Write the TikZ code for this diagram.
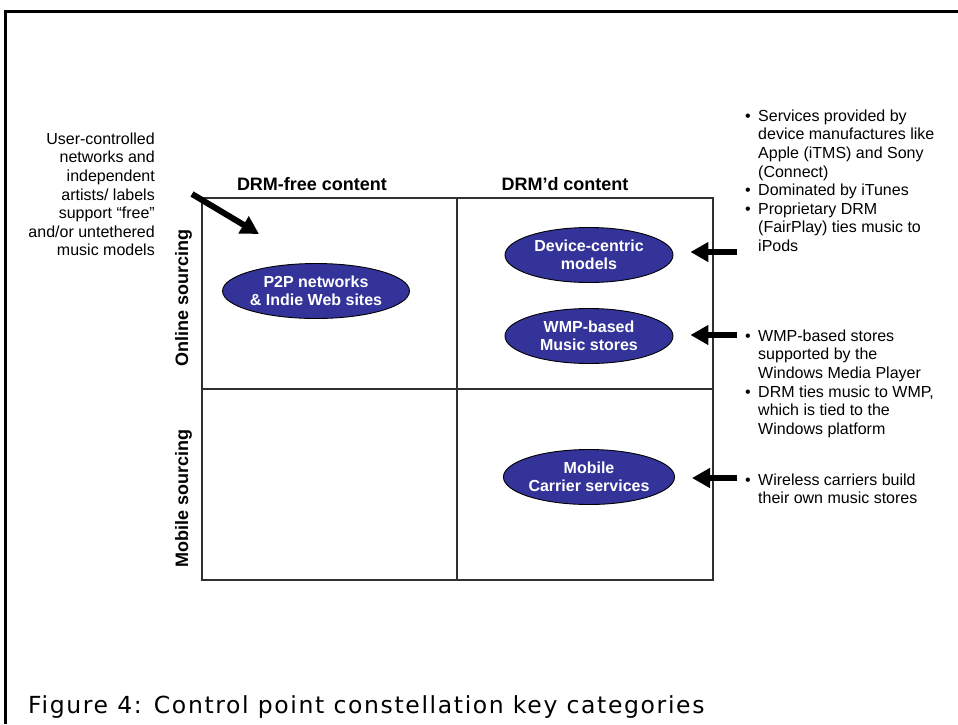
\documentclass[tikz,border=0pt]{standalone}
\usepackage{fontspec}
\setmainfont{Liberation Sans}
\newfontfamily\capfont[LetterSpace=7]{DejaVu Sans}
\usetikzlibrary{shapes.geometric,arrows.meta}
\definecolor{ovalblue}{HTML}{333399}
\definecolor{gridgray}{HTML}{303030}
\tikzset{
  oval/.style={ellipse, draw=black, line width=0.9pt, fill=ovalblue,
    minimum width=168pt, minimum height=55pt, inner sep=0pt,
    text=white, align=center, font=\fontsize{16}{18}\selectfont\bfseries},
  colhead/.style={inner sep=0pt, font=\fontsize{18}{20}\selectfont\bfseries},
  rowhead/.style={inner sep=0pt, rotate=90, anchor=base, font=\fontsize{18}{20}\selectfont\bfseries},
  note/.style={inner sep=0pt, font=\fontsize{16}{18.6}\selectfont},
  bigarrow/.style={line width=6pt, -{Triangle[length=18pt,width=19pt]}},
  gridline/.style={draw=gridgray, line width=1.3pt}
}
\newcommand{\bul}{\makebox[13pt][l]{\textbullet}}
\newcommand{\ind}{\hspace*{13pt}}
\begin{document}
\begin{tikzpicture}[x=1pt,y=-1pt]
  \useasboundingbox (0,0) rectangle (958,724);
  % outer frame
  \draw[line width=3pt] (5,724) -- (5,11) -- (958,11);

  % quadrant grid
  \draw[gridline] (202,198) rectangle (713,580);
  \draw[gridline] (457,198) -- (457,580);
  \draw[gridline] (202,389) -- (713,389);

  % headings
  \node[colhead] (hfree) at (312,184) {DRM-free content};
  \node[colhead] (hdrm) at (565,184) {DRM’d content};
  \node[rowhead] (honline) at (188,298) {Online sourcing};
  \node[rowhead] (hmobile) at (188,498) {Mobile sourcing};

  % categories
  \node[oval] (p2p) at (316,291) {P2P networks\\\& Indie Web sites};
  \node[oval] (dev) at (589,255) {Device-centric\\models};
  \node[oval] (wmp) at (589,336) {WMP-based\\Music stores};
  \node[oval] (mob) at (589,477) {Mobile\\Carrier services};

  % left annotation
  \node[note, anchor=north east, align=right] (ugc) at (155,132.5)
    {User-controlled\\networks and\\independent\\artists/ labels\\support “free”\\and/or untethered\\music models};

  % right annotations
  \node[note, anchor=north west, align=left] (ndev) at (745,109.5)
    {\bul Services provided by\\\ind device manufactures like\\\ind Apple (iTMS) and Sony\\\ind (Connect)\\
     \bul Dominated by iTunes\\\bul Proprietary DRM\\\ind (FairPlay) ties music to\\\ind iPods};
  \node[note, anchor=north west, align=left] (nwmp) at (745,329.5)
    {\bul WMP-based stores\\\ind supported by the\\\ind Windows Media Player\\
     \bul DRM ties music to WMP,\\\ind which is tied to the\\\ind Windows platform};
  \node[note, anchor=north west, align=left] (nmob) at (745,473.5)
    {\bul Wireless carriers build\\\ind their own music stores};

  % arrows
  \coordinate (ua) at (192,194);
  \coordinate (ub) at (259,234);
  \draw[bigarrow] (ua) -- (ub);
  \coordinate (a1) at (737,252);
  \coordinate (a2) at (737,335);
  \coordinate (a3) at (737,478);
  \draw[bigarrow, shorten >=17pt] (a1) -- (a1 -| dev.east);
  \draw[bigarrow, shorten >=17pt] (a2) -- (a2 -| wmp.east);
  \draw[bigarrow, shorten >=17pt] (a3) -- (a3 -| mob.east);

  % caption
  \node[inner sep=0pt, anchor=base west, font=\fontsize{23.5}{26}\capfont] (cap) at (28,713)
    {Figure 4: Control point constellation key categories};
\end{tikzpicture}
\end{document}
